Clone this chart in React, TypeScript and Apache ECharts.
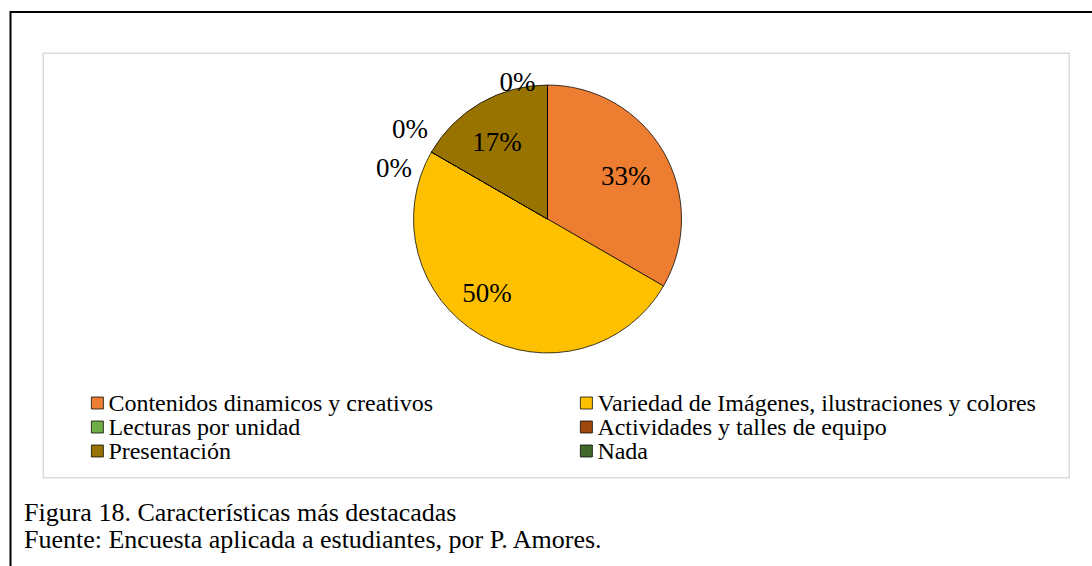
import React, { useEffect, useRef } from "react";
import * as echarts from "echarts";

const categories = [
  "Contenidos dinamicos y creativos",
  "Variedad de Imágenes, ilustraciones y colores",
  "Lecturas por unidad",
  "Actividades y talles de equipo",
  "Presentación",
  "Nada",
];
const values = [10, 15, 0, 0, 5, 0];
const colors = ["#ED7D31", "#FFC000", "#70AD47", "#9E480E", "#997300", "#43682B"];
const legendLeftCol = [categories[0], categories[2], categories[4]];
const legendRightCol = [categories[1], categories[3], categories[5]];
const captionLines = [
  "Figura 18. Características más destacadas",
  "Fuente: Encuesta aplicada a estudiantes, por P. Amores.",
];
// small nudges of the labels (Excel best-fit placement)
const labelNudge: Record<string, [number, number]> = {
  "Contenidos dinamicos y creativos": [-4, 4],
  "Variedad de Imágenes, ilustraciones y colores": [-13, -8],
  "Lecturas por unidad": [-11, 18],
  "Actividades y talles de equipo": [5, -21],
  Presentación: [-3, 5],
  Nada: [-7, 1],
};

const FONT = "Liberation Serif, serif";

export default function App() {
  const ref = useRef<HTMLDivElement>(null);
  useEffect(() => {
    document.body.style.margin = "0";
    if (!ref.current) return;
    const chart = echarts.init(ref.current, null, { renderer: "svg" });
    const pieData = categories.map((name, i) => ({
      name,
      value: values[i],
      itemStyle: { color: colors[i] },
      label: values[i] === 0 ? { offset: labelNudge[name] } : undefined,
    }));
    const innerData = categories.map((name, i) => ({
      name,
      value: values[i],
      label: values[i] !== 0 ? { offset: labelNudge[name] } : undefined,
    }));
    const legendCommon = {
      orient: "vertical" as const,
      icon: "rect",
      itemWidth: 12,
      itemHeight: 12,
      itemGap: 0,
      padding: 0,
      selectedMode: false,
      itemStyle: { borderColor: "#000", borderWidth: 0.75 },
      textStyle: {
        fontFamily: FONT,
        fontSize: 24,
        color: "#000",
        lineHeight: 24,
      },
    };
    chart.setOption({
      animation: false,
      backgroundColor: "#fff",
      textStyle: { fontFamily: FONT },
      legend: [
        { ...legendCommon, left: 91, top: 391, data: legendLeftCol },
        { ...legendCommon, left: 580, top: 391, data: legendRightCol },
      ],
      graphic: [
        {
          type: "rect",
          shape: { x: 10.5, y: 12, width: 1200, height: 800 },
          style: { fill: "none", stroke: "#000", lineWidth: 2 },
          silent: true,
        },
        {
          type: "rect",
          shape: { x: 43.3, y: 53.3, width: 1026, height: 424.5 },
          style: { fill: "none", stroke: "#d9d9d9", lineWidth: 1.5 },
          silent: true,
        },
        ...captionLines.map((t, i) => ({
          type: "text",
          left: 24,
          top: 499 + i * 27,
          style: {
            text: t,
            fontFamily: FONT,
            fontSize: 26,
            fill: "#000",
          },
          silent: true,
        })),
      ],
      series: [
        {
          type: "pie",
          center: [547.5, 219],
          radius: [0, 134],
          startAngle: 90,
          clockwise: true,
          percentPrecision: 0,
          avoidLabelOverlap: false,
          silent: true,
          itemStyle: { borderColor: "#000", borderWidth: 0.75 },
          label: {
            show: true,
            position: "outside",
            formatter: (p: any) => (p.value === 0 ? `${p.percent}%` : ""),
            fontFamily: FONT,
            fontSize: 27,
            color: "#000",
          },
          labelLine: { show: false, length: 4, length2: 0 },
          data: pieData,
        },
        {
          type: "pie",
          center: [547.5, 219],
          radius: [50, 134],
          startAngle: 90,
          clockwise: true,
          percentPrecision: 0,
          silent: true,
          itemStyle: { color: "transparent", borderWidth: 0 },
          label: {
            show: true,
            position: "inside",
            formatter: (p: any) => (p.value === 0 ? "" : `${p.percent}%`),
            fontFamily: FONT,
            fontSize: 27,
            color: "#000",
          },
          labelLine: { show: false },
          data: innerData,
        },
      ],
    });
    return () => chart.dispose();
  }, []);
  return <div ref={ref} style={{ width: 1092, height: 566 }} />;
}
